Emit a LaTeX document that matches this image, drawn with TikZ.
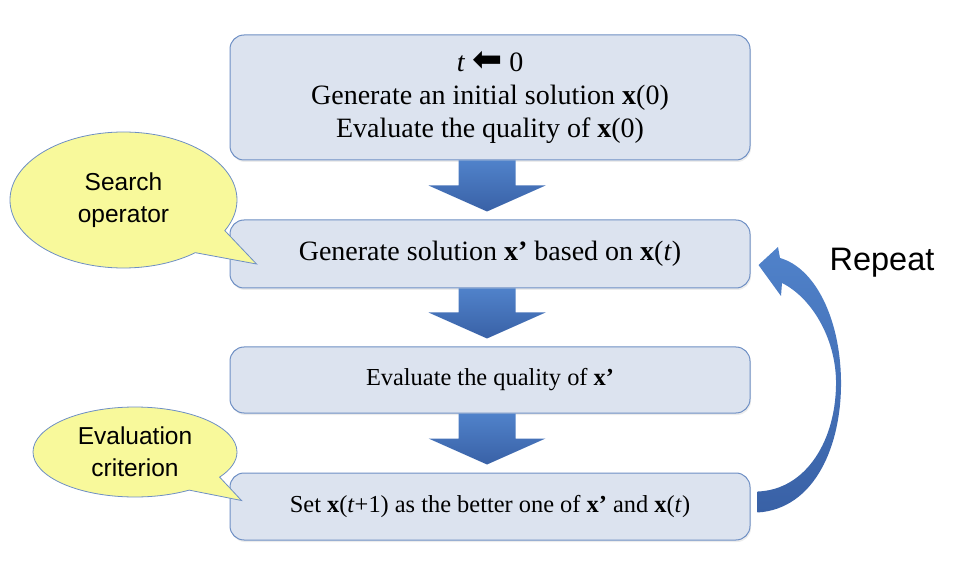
\documentclass[tikz,border=0pt]{standalone}
\usepackage{fontspec}
\setmainfont{Liberation Serif}
\setsansfont{Liberation Sans}
\newfontfamily\symfont{DejaVu Sans}
\usetikzlibrary{calc}
\usetikzlibrary{shapes.callouts}
\usetikzlibrary{shadows}
\definecolor{boxfill}{HTML}{DCE3EF}
\definecolor{boxline}{HTML}{6E8FC4}
\definecolor{notefill}{HTML}{F8F99B}
\definecolor{arrowtop}{HTML}{5082CA}
\definecolor{arrowbot}{HTML}{3961A6}

\begin{document}
\begin{tikzpicture}[x=1pt, y=-1pt,
    stagebox/.style={draw=boxline, fill=boxfill, line width=1pt, rounded corners=14pt,
      minimum width=520pt, inner sep=0pt, align=center,
      drop shadow={opacity=0.15, shadow xshift=1pt, shadow yshift=-2pt}},
    note/.style={ellipse callout, draw=boxline, fill=notefill, line width=0.8pt, inner sep=0pt,
      align=center, callout pointer arc=24, font=\sffamily\fontsize{24.5}{32}\selectfont},
    blockarrow/.style={top color=arrowtop, bottom color=arrowbot, draw=none}]
    \useasboundingbox (0,0) rectangle (954,580);
    \node[stagebox, minimum height=125pt, font=\fontsize{28}{33}\selectfont] (init) at (490,97.5)
      {\textit{t} {\symfont\fontsize{36}{33}\selectfont ⬅} 0\\Generate an initial solution \textbf{x}(0)\\Evaluate the quality of \textbf{x}(0)};
    \node[stagebox, minimum height=68pt, font=\fontsize{28}{33}\selectfont] (gen) at (490,254)
      {Generate solution \textbf{x’} based on \textbf{x}(\textit{t})};
    \node[stagebox, minimum height=66pt, font=\fontsize{24.4}{30}\selectfont] (eval) at (490,380)
      {Evaluate the quality of \textbf{x’}};
    \node[stagebox, minimum height=67pt, font=\fontsize{24.4}{30}\selectfont] (sel) at (490,506.5)
      {Set \textbf{x}(\textit{t}+1) as the better one of \textbf{x’} and \textbf{x}(\textit{t})};
    \foreach \a/\b in {init/gen, gen/eval, eval/sel}
      \path[blockarrow] ($(\a.south)+(-31.5,0)$) -- ($(\b.north)+(-31.5,-34)$) -- ($(\b.north)+(-61.5,-34)$)
        -- ($(\b.north)+(-3,-8)$) -- ($(\b.north)+(55.5,-34)$) -- ($(\b.north)+(25.5,-34)$)
        -- ($(\a.south)+(25.5,0)$) -- cycle;
    % loop back
    \coordinate (loopfoot) at ($(sel.east)+(7,0)$);
    \coordinate (looptip) at ($(gen.east)+(8,11)$);
    \path[top color=arrowtop, bottom color=arrowbot]
      ($(loopfoot)+(0,6)$) .. controls (815,509) and (842,445) .. (841,380)
      .. controls (840,318) and (815,268) .. (780,258)
      -- (778,247) -- (looptip) -- (781,296) -- (782,283)
      .. controls (812,298) and (835,338) .. (836,380)
      .. controls (837,440) and (806,490) .. ($(loopfoot)+(0,-15)$) -- cycle;
    \node[font=\sffamily\fontsize{32.5}{36}\selectfont] (repeat) at (882,263) {Repeat};
    \node[note, minimum width=227pt, minimum height=136pt,
      callout absolute pointer={($(gen.west)+(27,10)$)}] (search) at (123.5,200) {Search\\operator};
    \node[note, minimum width=204pt, minimum height=90pt,
      callout absolute pointer={($(sel.west)+(12,-6)$)}] (crit) at (135,452) {Evaluation\\criterion};
  \end{tikzpicture}
\end{document}
